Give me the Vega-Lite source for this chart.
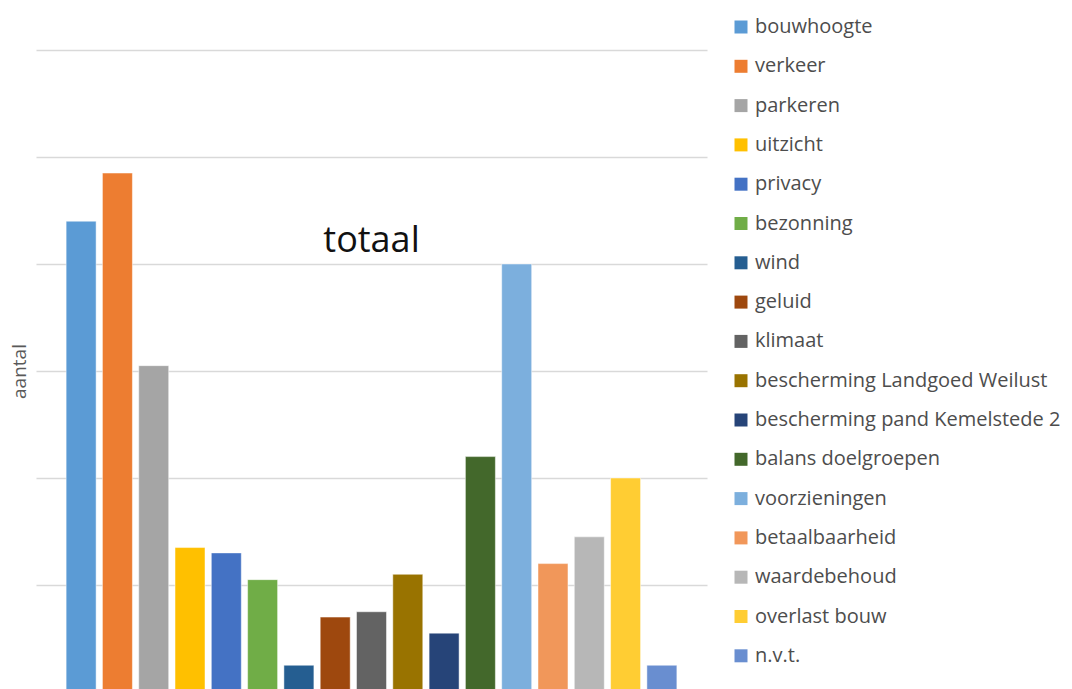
{
  "$schema": "https://vega.github.io/schema/vega-lite/v6.json",
  "width": 671,
  "height": 642,
  "autosize": {"type": "none"},
  "padding": {"left": 36, "top": 50, "right": 365, "bottom": 0},
  "background": "white",
  "title": {
    "text": "totaal",
    "orient": "top",
    "anchor": "middle",
    "offset": -243,
    "font": "Open Sans",
    "fontSize": 36,
    "fontWeight": "normal",
    "color": "#111111"
  },
  "config": {"view": {"stroke": null}},
  "data": {
    "values": [
      {"categorie": "bouwhoogte", "aantal": 88},
      {"categorie": "verkeer", "aantal": 97},
      {"categorie": "parkeren", "aantal": 61},
      {"categorie": "uitzicht", "aantal": 27},
      {"categorie": "privacy", "aantal": 26},
      {"categorie": "bezonning", "aantal": 21},
      {"categorie": "wind", "aantal": 5},
      {"categorie": "geluid", "aantal": 14},
      {"categorie": "klimaat", "aantal": 15},
      {"categorie": "bescherming Landgoed Weilust", "aantal": 22},
      {"categorie": "bescherming pand Kemelstede 2", "aantal": 11},
      {"categorie": "balans doelgroepen", "aantal": 44},
      {"categorie": "voorzieningen", "aantal": 80},
      {"categorie": "betaalbaarheid", "aantal": 24},
      {"categorie": "waardebehoud", "aantal": 29},
      {"categorie": "overlast bouw", "aantal": 40},
      {"categorie": "n.v.t.", "aantal": 5}
    ]
  },
  "mark": {"type": "bar", "stroke": "white", "strokeWidth": 0.8, "strokeOpacity": 0.6},
  "encoding": {
    "x": {
      "field": "categorie",
      "type": "nominal",
      "sort": null,
      "axis": null,
      "scale": {"paddingInner": 0.174, "paddingOuter": 0.83}
    },
    "y": {
      "field": "aantal",
      "type": "quantitative",
      "scale": {"domain": [0, 120], "nice": false},
      "axis": {
        "values": [0, 20, 40, 60, 80, 100, 120],
        "grid": true,
        "gridColor": "#d9d9d9",
        "gridWidth": 1.3,
        "labels": false,
        "ticks": false,
        "domain": false,
        "title": "aantal",
        "titleFont": "Open Sans",
        "titleFontSize": 19,
        "titleFontWeight": "normal",
        "titleColor": "#595959",
        "titlePadding": 7
      }
    },
    "color": {
      "field": "categorie",
      "type": "nominal",
      "sort": null,
      "scale": {
        "domain": ["bouwhoogte", "verkeer", "parkeren", "uitzicht", "privacy", "bezonning", "wind", "geluid", "klimaat", "bescherming Landgoed Weilust", "bescherming pand Kemelstede 2", "balans doelgroepen", "voorzieningen", "betaalbaarheid", "waardebehoud", "overlast bouw", "n.v.t."],
        "range": ["#5B9BD5", "#ED7D31", "#A5A5A5", "#FFC000", "#4472C4", "#70AD47", "#255E91", "#9E480E", "#636363", "#997300", "#264478", "#43682B", "#7CAFDD", "#F1975A", "#B7B7B7", "#FFCD33", "#698ED0"]
      },
      "legend": {
        "orient": "none",
        "legendX": 695,
        "legendY": -33,
        "title": null,
        "padding": 0,
        "symbolType": "square",
        "symbolSize": 169,
        "symbolStrokeWidth": 0,
        "labelFont": "Open Sans",
        "labelFontSize": 20,
        "labelColor": "#4d4d4d",
        "labelOffset": 4,
        "labelLimit": 400,
        "rowPadding": 19.3
      }
    }
  }
}
